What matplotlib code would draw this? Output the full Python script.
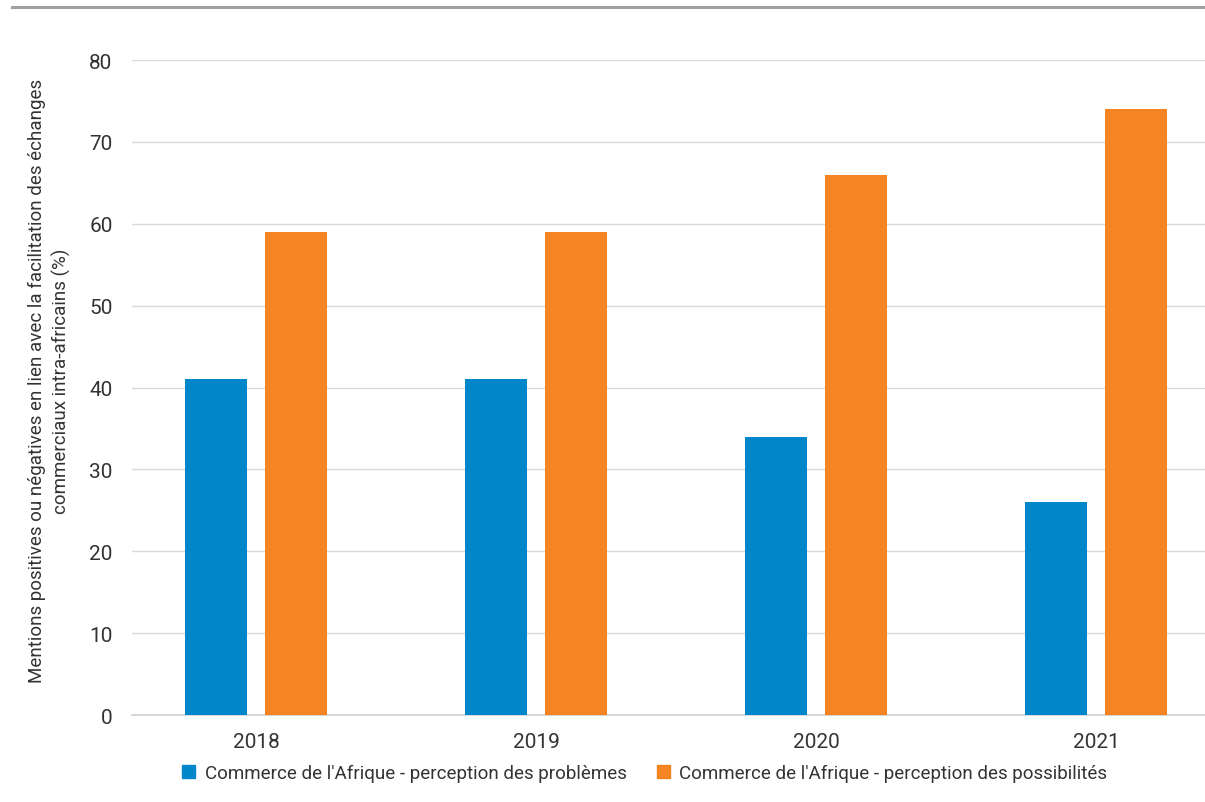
import matplotlib
matplotlib.use("Agg")
import matplotlib.pyplot as plt
from matplotlib.lines import Line2D
from matplotlib.patches import Patch
import numpy as np

plt.rcParams['font.family'] = ['Roboto', 'DejaVu Sans']

years = ['2018', '2019', '2020', '2021']
problemes = [41, 41, 34, 26]
possibilites = [59, 59, 66, 74]
series_labels = ["Commerce de l'Afrique - perception des problèmes",
                 "Commerce de l'Afrique - perception des possibilités"]
ylabel = ("Mentions positives ou négatives en lien avec la facilitation des échanges\n"
          "commerciaux intra-africains (%)")

BLUE = '#0086c9'
ORANGE = '#f58423'
TXT = '#333333'

fig = plt.figure(figsize=(12.05, 8.03), dpi=100)
ax = fig.add_axes([0.1095, 0.1083, 0.8905, 0.8157])

x = np.arange(len(years))
w = 0.221
off = 0.143
ax.bar(x - off, problemes, w, color=BLUE, label=series_labels[0], zorder=3)
ax.bar(x + off, possibilites, w, color=ORANGE, label=series_labels[1], zorder=3)

ax.set_xlim(-0.443, 3.389)
ax.set_ylim(0, 80)
ax.set_yticks(range(0, 81, 10))
ax.set_xticks(x)
ax.set_xticklabels(years)
ax.grid(axis='y', color='#d9d9d9', linewidth=1, zorder=0)
for s in ['top', 'right', 'left']:
    ax.spines[s].set_visible(False)
ax.spines['bottom'].set_color('#d0d0d0')
ax.spines['bottom'].set_linewidth(1.2)
ax.tick_params(axis='both', length=0, labelsize=15, colors=TXT)
ax.tick_params(axis='y', pad=14)
ax.tick_params(axis='x', pad=12)

fig.text(0.041, 0.525, ylabel, rotation=90, ha='center', va='center',
         fontsize=13.5, color=TXT, linespacing=1.35)

# rule across the top of the figure
fig.add_artist(Line2D([0.01, 1.0], [0.990, 0.990], color='#a0a0a0', linewidth=2.2))

handles = [Patch(color=BLUE), Patch(color=ORANGE)]
fig.legend(handles, series_labels, loc='center', bbox_to_anchor=(0.535, 0.036),
           ncol=2, frameon=False, fontsize=13.5, handlelength=0.7, handleheight=0.7,
           handletextpad=0.5, columnspacing=1.6, labelcolor=TXT)

fig.savefig('out.png', dpi=100)
